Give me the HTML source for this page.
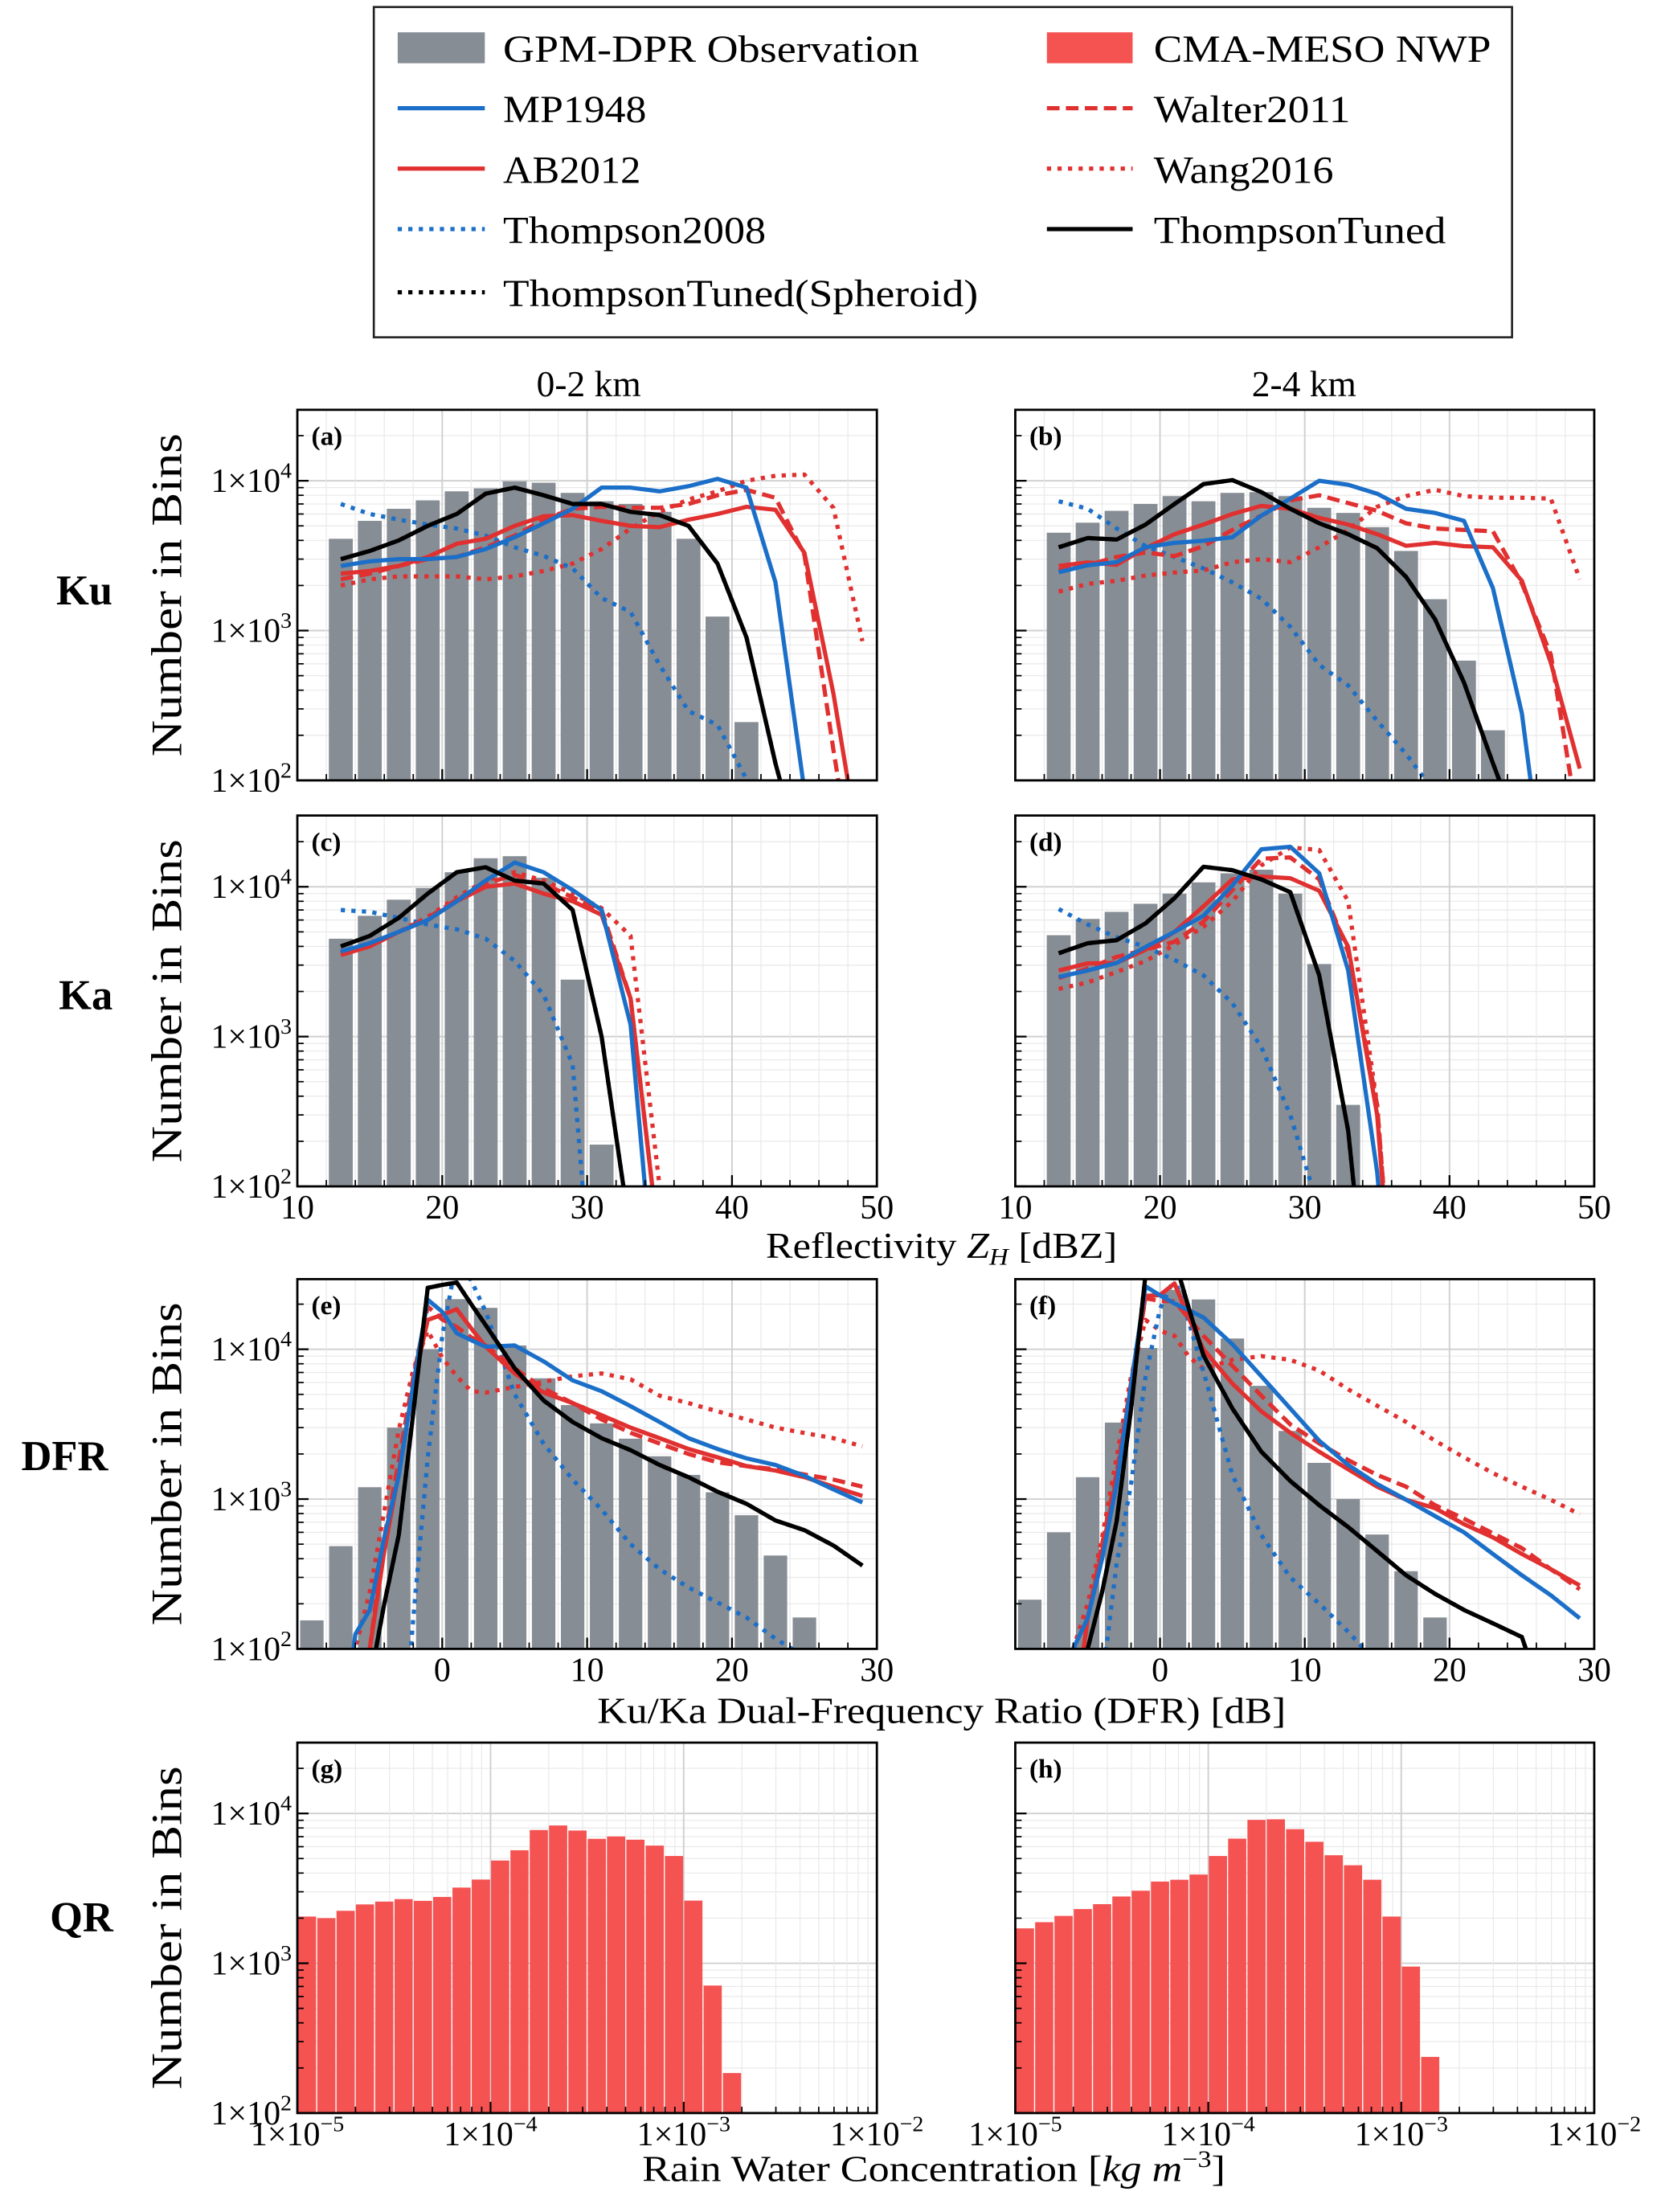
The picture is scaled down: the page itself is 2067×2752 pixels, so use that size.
<!DOCTYPE html>
<html><head><meta charset="utf-8"><style>
html,body{margin:0;padding:0;background:#fff;}
svg{display:block;}
text{font-family:"Liberation Serif","DejaVu Serif",serif;fill:#000;}
</style></head><body>
<svg id="fig" xmlns="http://www.w3.org/2000/svg" width="2067" height="2752" viewBox="0 0 1182 1574" preserveAspectRatio="none">
<rect x="0" y="0" width="1182" height="1574" fill="#fff"/>
<g id="legend">
<rect x="266" y="5" width="810" height="235" fill="#fff" stroke="#222" stroke-width="1.5"/>
<g><rect x="283" y="23" width="62" height="22" fill="#878d94"/><text x="358" y="44" font-size="27" textLength="296" lengthAdjust="spacingAndGlyphs">GPM-DPR Observation</text></g>
<g><line x1="283" y1="77" x2="345" y2="77" stroke="#1b6fc8" stroke-width="3"/><text x="358" y="87" font-size="27" textLength="102" lengthAdjust="spacingAndGlyphs">MP1948</text></g>
<g><line x1="283" y1="120" x2="345" y2="120" stroke="#e03030" stroke-width="3"/><text x="358" y="130" font-size="27" textLength="98" lengthAdjust="spacingAndGlyphs">AB2012</text></g>
<g><line x1="283" y1="163" x2="345" y2="163" stroke="#1b6fc8" stroke-width="3" stroke-dasharray="3,4.5"/><text x="358" y="173" font-size="27" textLength="187" lengthAdjust="spacingAndGlyphs">Thompson2008</text></g>
<g><line x1="283" y1="208" x2="345" y2="208" stroke="#000" stroke-width="3" stroke-dasharray="3,4.5"/><text x="358" y="218" font-size="27" textLength="338" lengthAdjust="spacingAndGlyphs">ThompsonTuned(Spheroid)</text></g>
<g><rect x="745" y="23" width="61" height="22" fill="#f55252"/><text x="821" y="44" font-size="27" textLength="240" lengthAdjust="spacingAndGlyphs">CMA-MESO NWP</text></g>
<g><line x1="745" y1="77" x2="806" y2="77" stroke="#e03030" stroke-width="3" stroke-dasharray="9,4.5"/><text x="821" y="87" font-size="27" textLength="140" lengthAdjust="spacingAndGlyphs">Walter2011</text></g>
<g><line x1="745" y1="120" x2="806" y2="120" stroke="#e03030" stroke-width="3" stroke-dasharray="3,4.5"/><text x="821" y="130" font-size="27" textLength="128" lengthAdjust="spacingAndGlyphs">Wang2016</text></g>
<g><line x1="745" y1="163" x2="806" y2="163" stroke="#000" stroke-width="3"/><text x="821" y="173" font-size="27" textLength="208" lengthAdjust="spacingAndGlyphs">ThompsonTuned</text></g>
</g>
<text x="419" y="282" font-size="26" text-anchor="middle">0-2 km</text>
<text x="928" y="282" font-size="26" text-anchor="middle">2-4 km</text>
<text x="60" y="430" font-size="30" font-weight="bold" text-anchor="middle">Ku</text>
<text x="61" y="718" font-size="30" font-weight="bold" text-anchor="middle">Ka</text>
<text x="46" y="1046" font-size="30" font-weight="bold" text-anchor="middle">DFR</text>
<text x="58" y="1374" font-size="30" font-weight="bold" text-anchor="middle">QR</text>
<text x="545" y="895" font-size="26" textLength="250" lengthAdjust="spacingAndGlyphs">Reflectivity <tspan font-style="italic">Z</tspan><tspan font-style="italic" font-size="17" dy="5">H</tspan><tspan dy="-5"> [dBZ]</tspan></text>
<text x="425" y="1226" font-size="26" textLength="490" lengthAdjust="spacingAndGlyphs">Ku/Ka Dual-Frequency Ratio (DFR) [dB]</text>
<text x="457" y="1552" font-size="26" textLength="415" lengthAdjust="spacingAndGlyphs">Rain Water Concentration [<tspan font-style="italic">kg m</tspan><tspan font-size="17" dy="-10">−3</tspan><tspan dy="10">]</tspan></text>
</svg>
<script>
// ---------- data ----------
const kuX = [13,15,17,19,21,23,25,27,29,31,33,35,37,39,41,43,45,47,49];
const zBarStart = 13;
const obsA = [4100,5400,6500,7400,8500,8900,9900,9700,8300,7300,7000,6200,4100,1240,245];
const mpA  = [2700,2900,3000,3000,3100,3500,4200,5200,6500,9000,9000,8500,9200,10300,9000,2100,85];
const abA  = [2400,2500,2700,3100,3800,4100,5000,5800,5900,5400,5000,4900,5500,6000,6700,6400,3300,380,26];
const wlA  = [2200,2400,2700,3000,3100,3600,4300,5500,6500,6700,6600,6600,7000,8000,8700,7700,3200,160,10];
const wgA  = [2000,2200,2300,2300,2300,2200,2300,2500,2800,3500,4800,6200,7500,8500,10000,10800,11000,6600,850];
const t08A = [7000,6000,5500,5100,4800,4300,3600,3150,2600,1650,1330,590,290,235,102,30];
const blkA = [3000,3400,4000,5000,6000,8200,9000,8000,7000,7000,6200,5900,5000,2800,900,130,25];

const obsB = [4500,5250,6300,7000,7900,7300,8300,8400,7900,6600,6100,4900,3400,1620,630,216];
const mpB  = [2450,2730,2860,3600,3850,3980,4200,5850,7600,10000,9400,8200,6500,6100,5400,1920,280,9];
const abB  = [2700,2850,2750,3550,4400,5100,6000,6800,6500,5650,5100,4400,3680,3850,3660,3600,2150,610,120];
const wlB  = [2520,2730,3100,3320,3140,3660,4700,5850,7400,8000,7100,6300,5200,4800,4700,4600,2060,690,44];
const wgB  = [1820,2050,2150,2330,2440,2520,2860,3000,2860,3600,4700,6700,7900,8700,7900,7700,7700,7600,2200];
const t08B = [7300,6500,4800,3660,3100,2600,2100,1630,1060,590,430,250,150,83];
const blkB = [3600,4150,4050,5100,7000,9500,10100,8400,6500,5200,4400,3550,2280,1190,450,130,40];

const obsC = [4500,6400,8200,9800,12500,15500,16000,11500,2400,190];
const mpC  = [3700,4200,5000,6000,8000,11000,14500,12500,9500,7000,1200,8];
const abC  = [3500,4000,5000,6000,8000,10000,10500,9000,8000,6500,1800,38];
const wlC  = [3600,4100,5000,6200,8200,10500,12000,10500,8500,7000,1800,38];
const wgC  = [3600,4200,5000,6300,8500,11000,12500,11000,9000,7200,4700,100];
const t08C = [7000,6800,6200,5600,5200,4500,3200,1900,650,3];
const blkC = [4000,4700,6200,9000,12500,13500,11000,10500,7000,1000,47];

const obsD = [4750,6100,6800,7700,9000,10700,12300,13000,9000,3050,350];
const mpD  = [2500,2760,3100,3970,5000,6400,10200,17800,18500,12300,2760,125,1];
const abD  = [2760,3080,3100,3800,5000,7400,11200,11700,11400,9400,3970,300,1];
const wlD  = [2460,2850,3400,3800,4300,5850,9500,15400,15700,11200,3660,350,1];
const wgD  = [2080,2300,2700,3200,4100,5400,8000,13900,18300,17600,8000,350,1];
const t08D = [7100,5600,4600,3970,3250,2560,1670,850,300,69];
const blkD = [3600,4200,4400,5700,8400,13600,12900,11200,9200,2560,235,3];

const dfrX = [-7,-6,-5,-4,-3,-2,-1,0,1,2,3,5,7,9,11,13,15,17,19,21,23,25,27,29];
const dfrBarStart = -9;
const obsE = [155,485,1200,3000,10000,21600,18900,10600,6400,4240,3200,2530,1930,1450,1110,780,420,162];
const mpE  = [20,125,182,555,1430,5800,21400,17800,12800,11500,10400,10600,8300,6200,5250,4170,3270,2550,2160,1870,1690,1430,1160,950];
const abE  = [10,40,100,450,1490,5800,15700,17000,18500,13800,10400,6900,5140,4370,3630,3000,2550,2160,1900,1660,1550,1400,1210,1050];
const wlE  = [10,40,100,555,1800,6500,19300,15800,14100,12000,10600,7460,5470,4370,3400,2770,2350,2000,1760,1660,1580,1460,1350,1210];
const wgE  = [30,100,240,830,2900,7300,13300,8800,6600,5250,5140,5600,6070,6600,6900,6300,4900,4370,3850,3400,3000,2760,2550,2250];
const t08E = [1,1,1,1,10,160,1900,12200,40000,28800,17800,5000,2340,1350,850,500,340,257,204,162,117,89,63,50];
const blkE = [1,10,60,200,575,3760,25700,26900,27900,20000,14500,7460,4550,3270,2550,2120,1690,1400,1120,930,720,620,490,360];

const obsF = [213,600,1400,3240,10200,24900,21500,11800,5700,2850,1745,1000,580,330,162];
const mpF  = [5,100,160,400,1260,5800,26300,22900,20200,18200,16300,10800,6600,4020,2450,1690,1260,990,770,600,430,310,228,160];
const abF  = [5,30,160,450,1380,5800,22700,23000,27500,16000,10000,5900,3850,2770,2070,1580,1210,990,870,680,555,430,340,265];
const wlF  = [5,30,160,500,1500,6000,21900,21000,20900,16000,12300,7760,4900,3150,2350,1820,1450,1210,910,740,590,470,340,250];
const wgF  = [20,100,200,555,1900,6600,15700,13300,12300,8900,7400,8500,9000,8500,7200,5400,4200,3270,2450,1900,1490,1210,990,790];
const t08F = [1,1,1,60,370,1260,6600,18600,30000,15100,7100,1450,575,300,200,130,80,50,30,20,10,5,3,2];
const blkF = [1,10,100,240,710,4000,31600,60000,40000,18600,9100,4020,2070,1320,910,650,450,310,233,182,148,120,32,10];

const qrBinLogStart = -5;
const qrBinLogWidth = 0.1;
const obsG = [2050,2000,2240,2470,2580,2680,2610,2770,3200,3620,4850,5680,7750,8310,7690,6770,7020,6680,6100,5200,2620,710,185];
const obsH = [1710,1880,2070,2300,2480,2790,3050,3510,3610,3910,5200,6790,9060,9140,7850,6470,5260,4510,3610,2050,950,237];

const yTickExps = [2,3,4];
const zTicks = [10,20,30,40,50];
const dfrTicks = [0,10,20,30];
const qrTickExps = [-5,-4,-3,-2];

// ---------- drawing ----------
const NS = "http://www.w3.org/2000/svg";
const svg = document.getElementById('fig');
function mk(tag, attrs, parent){ const e=document.createElementNS(NS,tag); for(const k in attrs) e.setAttribute(k,attrs[k]); (parent||svg).appendChild(e); return e; }

const COLS = [{x0:211.6,x1:624.0},{x0:722.5,x1:1134.5}];
const ROWS = [{top:291.6,bot:555.3},{top:580.3,bot:844.2},{top:910.2,bot:1173.3},{top:1240.0,bot:1503.6}];
const DEC = 106.6;
const BLUE="#1b6fc8", RED="#e03030", BLACK="#000";
const DOT="3,4.5", DASH="9,4.5";
let clipId = 0;

function makePanel(col,row,xmin,xmax,xlog,letter,name){
  const c=COLS[col], r=ROWS[row];
  const g=mk('g',{});
  
  
  const xs = v => { const t = xlog ? Math.log10(v) : v; return c.x0 + (t - xmin)/(xmax - xmin)*(c.x1 - c.x0); };
  const ys = v => r.bot - (Math.log10(v) - 2)*DEC;
  const cid = 'clip'+(clipId++);
  const cp = mk('clipPath',{id:cid},g);
  mk('rect',{x:c.x0,y:r.top,width:c.x1-c.x0,height:r.bot-r.top},cp);
  const grid = mk('g',{},g);
  
  
  for(let e=2;e<=4;e++){
    for(let m=1;m<=9;m++){
      const v=m*Math.pow(10,e); const y=ys(v);
      if(y<r.top) continue;
      mk('line',{x1:c.x0,x2:c.x1,y1:y,y2:y,stroke:m===1?'#d0d0d0':'#e9e9e9','stroke-width':m===1?1.1:0.7},grid);
    }
  }
  const vx=[];
  if(xlog){
    for(let e=-5;e<=-3;e++) for(let m=1;m<=9;m++) vx.push({v:m*Math.pow(10,e),maj:m===1});
    vx.push({v:1e-2,maj:true});
  } else {
    const start = Math.ceil(xmin/2)*2;
    for(let v=start; v<=xmax+1e-9; v+=2) vx.push({v:v,maj:(v%10===0)});
  }
  vx.forEach(t=>{
    const x=xs(t.v);
    if(x<c.x0-0.5||x>c.x1+0.5) return;
    mk('line',{x1:x,x2:x,y1:r.top,y2:r.bot,stroke:t.maj?'#d0d0d0':'#e9e9e9','stroke-width':t.maj?1.1:0.7},grid);
  });
  const data = mk('g',{'clip-path':'url(#'+cid+')'},g);
  const ticks = mk('g',{},g);
  vx.forEach(t=>{
    const x=xs(t.v);
    if(x<c.x0+1||x>c.x1-1) return;
    mk('line',{x1:x,x2:x,y1:r.bot,y2:r.bot-(t.maj?8:4.5),stroke:'#000','stroke-width':t.maj?1.3:1},ticks);
  });
  for(let e=2;e<=4;e++) for(let m=1;m<=9;m++){
    const y=ys(m*Math.pow(10,e)); if(y<r.top) continue;
    mk('line',{x1:c.x0,x2:c.x0+(m===1?8:4.5),y1:y,y2:y,stroke:'#000','stroke-width':m===1?1.3:1},ticks);
  }
  mk('rect',{x:c.x0,y:r.top,width:c.x1-c.x0,height:r.bot-r.top,fill:'none',stroke:'#000','stroke-width':1.6},g);
  const lt = mk('text',{x:c.x0+10,y:r.top+25,'font-size':19,'font-weight':'bold'},g);
  lt.textContent='('+letter+')';
  
  
  return {g,data,xs,ys,c,r};
}

function bars(p, start, step, width, vals, color, name){
  vals.forEach((v,i)=>{
    const cx = start + i*step;
    const xa = p.xs(cx - width/2), xb = p.xs(cx + width/2), y = p.ys(v);
    const b = mk('rect',{x:xa,y:y,width:xb-xa,height:p.r.bot-y,fill:color},p.data);
    
    
  });
}
function qrBars(p, vals, name){
  vals.forEach((v,i)=>{
    const la = qrBinLogStart + i*qrBinLogWidth, lb = la + qrBinLogWidth;
    const xa = p.xs(Math.pow(10,la)), xb = p.xs(Math.pow(10,lb)), y=p.ys(v);
    const b = mk('rect',{x:xa+0.4,y:y,width:xb-xa-0.8,height:p.r.bot-y,fill:'#f55252'},p.data);
    
    
  });
}
function series(p, xarr, vals, color, dash, name){
  const pts = vals.map((v,i)=>p.xs(xarr[i]).toFixed(2)+','+p.ys(v).toFixed(2)).join(' ');
  const a = {points:pts,fill:'none',stroke:color,'stroke-width':3,'stroke-linejoin':'round'};
  if(dash) a['stroke-dasharray']=dash;
  const l = mk('polyline',a,p.data);
  
  
}
function addSeries(p, xarr, s){
  series(p,xarr,s.wg,RED,DOT,'wang2016-line');
  series(p,xarr,s.t08,BLUE,DOT,'thompson2008-line');
  series(p,xarr,s.ab,RED,null,'ab2012-line');
  series(p,xarr,s.wl,RED,DASH,'walter2011-line');
  series(p,xarr,s.mp,BLUE,null,'mp1948-line');
  series(p,xarr,s.blk,BLACK,DOT,'thompsontuned-spheroid-line');
  series(p,xarr,s.blk,BLACK,null,'thompsontuned-line');
}
function yLabels(p){
  yTickExps.forEach(e=>{
    const t=mk('text',{x:p.c.x0-4,y:p.ys(Math.pow(10,e))+8,'font-size':24,'text-anchor':'end'});
    
    
    t.textContent='1×10';
    const s=mk('tspan',{'font-size':16,dy:-10},t); s.textContent=String(e);
  });
  const cy=(p.r.top+p.r.bot)/2;
  const yl=mk('text',{x:0,y:0,'font-size':31,'text-anchor':'middle',transform:'translate(129,'+cy+') rotate(-90)',textLength:230,lengthAdjust:'spacingAndGlyphs'});
  
  
  yl.textContent='Number in Bins';
}
function xLabels(p, ticks, fmt){
  ticks.forEach(v=>{
    const t=mk('text',{x:p.xs(v),y:p.r.bot+23,'font-size':24,'text-anchor':'middle'});
    
    
    fmt(t,v);
  });
}
const plain = (t,v)=>{ t.textContent=String(v); };

const pa = makePanel(0,0,10,50,false,'a','panel-a-ku-0-2km');
bars(pa,zBarStart,2,1.65,obsA,'#878d94','gpm-dpr-observation');
addSeries(pa,kuX,{mp:mpA,ab:abA,wl:wlA,wg:wgA,t08:t08A,blk:blkA});
yLabels(pa);
const pb = makePanel(1,0,10,50,false,'b','panel-b-ku-2-4km');
bars(pb,zBarStart,2,1.65,obsB,'#878d94','gpm-dpr-observation');
addSeries(pb,kuX,{mp:mpB,ab:abB,wl:wlB,wg:wgB,t08:t08B,blk:blkB});
const pc = makePanel(0,1,10,50,false,'c','panel-c-ka-0-2km');
bars(pc,zBarStart,2,1.65,obsC,'#878d94','gpm-dpr-observation');
addSeries(pc,kuX,{mp:mpC,ab:abC,wl:wlC,wg:wgC,t08:t08C,blk:blkC});
yLabels(pc); xLabels(pc,zTicks,plain);
const pd = makePanel(1,1,10,50,false,'d','panel-d-ka-2-4km');
bars(pd,zBarStart,2,1.65,obsD,'#878d94','gpm-dpr-observation');
addSeries(pd,kuX,{mp:mpD,ab:abD,wl:wlD,wg:wgD,t08:t08D,blk:blkD});
xLabels(pd,zTicks,plain);
const pe = makePanel(0,2,-10,30,false,'e','panel-e-dfr-0-2km');
bars(pe,dfrBarStart,2,1.62,obsE,'#878d94','gpm-dpr-observation');
addSeries(pe,dfrX,{mp:mpE,ab:abE,wl:wlE,wg:wgE,t08:t08E,blk:blkE});
yLabels(pe); xLabels(pe,dfrTicks,plain);
const pf = makePanel(1,2,-10,30,false,'f','panel-f-dfr-2-4km');
bars(pf,dfrBarStart,2,1.62,obsF,'#878d94','gpm-dpr-observation');
addSeries(pf,dfrX,{mp:mpF,ab:abF,wl:wlF,wg:wgF,t08:t08F,blk:blkF});
xLabels(pf,dfrTicks,plain);
const qfmt = (t,v)=>{ t.textContent='1×10'; const e=Math.round(Math.log10(v)); const s=mk('tspan',{'font-size':16,dy:-10},t); s.textContent='−'+String(-e); };
const qTicks = qrTickExps.map(e=>Math.pow(10,e));
const pg = makePanel(0,3,-5,-2,true,'g','panel-g-qr-0-2km');
qrBars(pg,obsG,'cma-meso-nwp');
yLabels(pg); xLabels(pg,qTicks,qfmt);
const ph = makePanel(1,3,-5,-2,true,'h','panel-h-qr-2-4km');
qrBars(ph,obsH,'cma-meso-nwp');
xLabels(ph,qTicks,qfmt);
</script>
</body></html>
